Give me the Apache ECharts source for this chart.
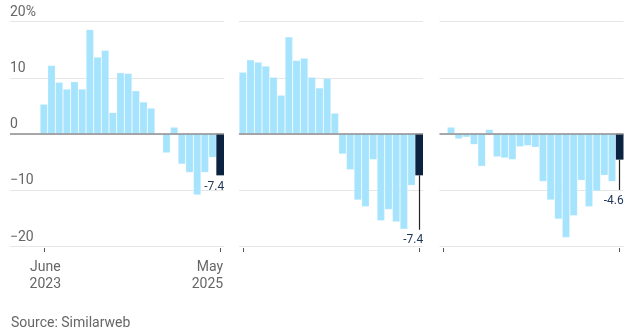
<!DOCTYPE html>
<html>
<head>
<meta charset="utf-8">
<script src="https://cdn.jsdelivr.net/npm/echarts@6/dist/echarts.min.js"></script>
<style>
html,body{margin:0;padding:0;background:#fff;}
#chart{width:640px;height:331px;}
</style>
</head>
<body>
<div id="chart"></div>
<script>
// ---- data ----
const months = ["Jun 2023","Jul 2023","Aug 2023","Sep 2023","Oct 2023","Nov 2023","Dec 2023",
  "Jan 2024","Feb 2024","Mar 2024","Apr 2024","May 2024","Jun 2024","Jul 2024","Aug 2024",
  "Sep 2024","Oct 2024","Nov 2024","Dec 2024","Jan 2025","Feb 2025","Mar 2025","Apr 2025","May 2025"];
const panel1 = [5.3, 12.2, 9.2, 8.0, 9.3, 8.0, 18.6, 13.7, 14.9, 3.8, 10.9, 10.8, 7.7, 5.7, 4.6, -0.2, -3.4, 1.2, -5.4, -6.9, -10.9, -6.9, -4.2, -7.4];
const panel2 = [11.0, 13.2, 12.8, 12.1, 10.1, 6.9, 17.3, 13.1, 13.5, 10.1, 8.2, 9.9, 3.7, -3.6, -6.4, -11.8, -13.0, -4.6, -15.5, -13.5, -15.7, -17.0, -9.2, -7.4];
const panel3 = [0, 1.2, -0.9, -0.6, -1.9, -5.8, 0.8, -4.1, -4.3, -4.6, -2.3, -2.1, -2.4, -8.5, -11.8, -15.2, -18.5, -14.6, -8.3, -13.0, -10.2, -7.4, -8.5, -4.6];
const yTicks = [-20, -10, 0, 10, 20];
const xTickLabels = ["June\n2023", "May\n2025"];
const sourceText = "Source: Similarweb";

// ---- layout / style (not data) ----
const C = {
  light: '#a6e4fd', dark: '#0b2340', grid: '#e6e6e6', zero: '#8e8e8e',
  text: '#666666', note: '#1d3557', font: 'Roboto'
};
const TOP = 21.7, BOTTOM = 85;
const panels = [
  {data: panel1, left: 40, width: 184, labelAt: -9.5, leaderEnd: null, showLabels: true},
  {data: panel2, left: 239, width: 184, labelAt: -18.9, leaderEnd: -17.1, showLabels: false},
  {data: panel3, left: 439.5, width: 184, labelAt: -12.0, leaderEnd: -10.0, showLabels: false}
];

const last = months.length - 1;
const edgeTick = (i) => i === 0 || i === last;
const fmtY = v => v === 20 ? '20%' : (v < 0 ? '\u2212' + Math.abs(v) : String(v));

const grids = [], xAxes = [], yAxes = [], series = [];

// wide grid for panel 1 y labels / gridlines
grids.push({left: 10, width: 214, top: TOP, bottom: BOTTOM});
xAxes.push({gridIndex: 0, type: 'category', data: months, show: false});
yAxes.push({gridIndex: 0, type: 'value', min: yTicks[0], max: yTicks[yTicks.length-1], interval: 10,
  axisLine: {show: false}, axisTick: {show: false},
  splitLine: {lineStyle: {color: C.grid, width: 1}},
  axisLabel: {inside: true, margin: 0, align: 'left', verticalAlign: 'bottom', padding: [0,0,2,0],
    color: C.text, fontSize: 14, fontFamily: C.font, formatter: fmtY}});
series.push({type: 'line', xAxisIndex: 0, yAxisIndex: 0, data: [], silent: true,
  markLine: {silent: true, symbol: 'none', label: {show: false},
    lineStyle: {color: C.zero, width: 1.5, type: 'solid'}, data: [{yAxis: 0}]}});

panels.forEach((p, k) => {
  const gi = k + 1;
  grids.push({left: p.left, width: p.width, top: TOP, bottom: BOTTOM});
  xAxes.push({gridIndex: gi, type: 'category', data: months, offset: 2, position: 'bottom',
    axisLine: {show: false, onZero: false},
    axisTick: {show: true, alignWithLabel: true, interval: edgeTick, length: 4, lineStyle: {color: '#555'}},
    axisLabel: {show: p.showLabels, interval: edgeTick, margin: 11, color: C.text, fontSize: 14,
      lineHeight: 17, fontFamily: C.font, alignMinLabel: 'center', alignMaxLabel: 'right',
      padding: [0, -3, 0, 0],
      formatter: (v, i) => i === 0 ? xTickLabels[0] : xTickLabels[1]}});
  yAxes.push({gridIndex: gi, type: 'value', min: yTicks[0], max: yTicks[yTicks.length-1], interval: 10,
    axisLine: {show: false}, axisTick: {show: false}, axisLabel: {show: false},
    splitLine: {show: k > 0, lineStyle: {color: C.grid, width: 1}}});
  const lastVal = p.data[last];
  const markLineData = [];
  if (k > 0) markLineData.push({yAxis: 0});
  if (p.leaderEnd !== null) {
    markLineData.push([{coord: [months[last], lastVal], lineStyle: {color: '#222', width: 1.2}},
                       {coord: [months[last], p.leaderEnd]}]);
  }
  series.push({type: 'bar', xAxisIndex: gi, yAxisIndex: gi, barCategoryGap: '0%',
    data: p.data.map((v, i) => i === last
      ? {value: v, itemStyle: {color: C.dark, borderWidth: 0}}
      : (v === 0 ? {value: v, itemStyle: {borderWidth: 0, opacity: 0}} : v)),
    itemStyle: {color: C.light, borderColor: 'rgba(255,255,255,0.35)', borderWidth: 0.6},
    silent: true,
    markLine: {silent: true, symbol: 'none', label: {show: false}, z: 5,
      lineStyle: {color: C.zero, width: 1.5, type: 'solid'}, data: markLineData},
    markPoint: {silent: true, symbol: 'circle', symbolSize: 0,
      data: [{coord: [months[last], p.labelAt], value: lastVal}],
      label: {show: true, position: 'inside', align: 'right', verticalAlign: 'middle', offset: [4, 0],
        color: C.note, fontSize: 12, fontFamily: C.font,
        formatter: d => (d.value < 0 ? '-' : '') + Math.abs(d.value).toFixed(1)}}
  });
});

const chart = echarts.init(document.getElementById('chart'), null, {renderer: 'canvas'});
chart.setOption({
  animation: false,
  backgroundColor: '#fff',
  title: {text: sourceText, left: 6, top: 311,
    textStyle: {color: C.text, fontSize: 14, fontWeight: 'normal', fontFamily: C.font}},
  grid: grids, xAxis: xAxes, yAxis: yAxes, series: series
});
</script>
</body>
</html>
